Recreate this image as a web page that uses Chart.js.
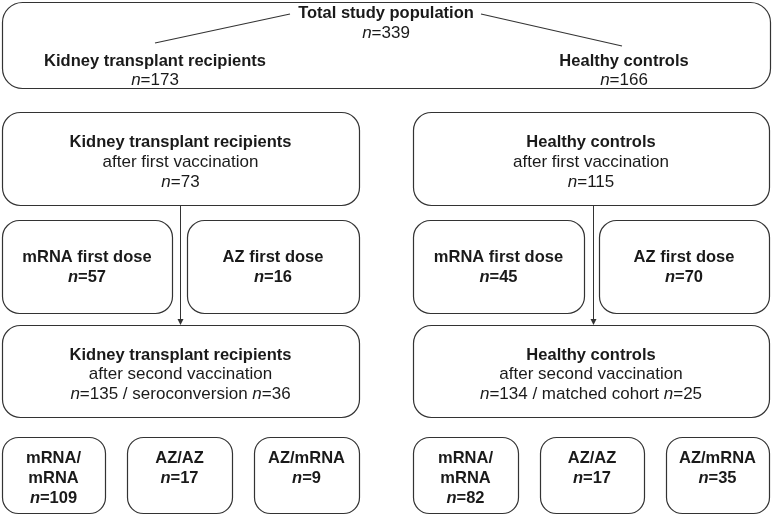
<!DOCTYPE html>
<html><head><meta charset="utf-8">
<script src="https://cdn.jsdelivr.net/npm/chart.js@4/dist/chart.umd.min.js"></script>
<style>html,body{margin:0;padding:0;background:#fff}#wrap{width:772px;height:515px}</style>
</head><body><div id="wrap"><canvas id="c" width="772" height="515"></canvas></div>
<script>
// ---- data ----
const groupNames = ['Kidney transplant recipients', 'Healthy controls'];
const totalLabel = 'Total study population';
const totalN = 339;
const groupN = [173, 166];
const firstVaxLabel = 'after first vaccination';
const firstVaxN = [73, 115];
const firstDoseLabels = ['mRNA first dose', 'AZ first dose'];
const ktrFirstDoseN = [57, 16];
const hcFirstDoseN = [45, 70];
const secondVaxLabel = 'after second vaccination';
const secondVaxN = [135, 134];
const subsetLabels = ['seroconversion', 'matched cohort'];
const subsetN = [36, 25];
const regimenLabels = [['mRNA/', 'mRNA'], ['AZ/AZ'], ['AZ/mRNA']];
const ktrRegimenN = [109, 17, 9];
const hcRegimenN = [82, 17, 35];

// ---- layout (scale units) ----
const BOLD = 16.5, REG = 17;
const FAM = '"Liberation Sans", Arial, Helvetica, sans-serif';
const mainCols = [[2, 359], [413, 769]];
const doseCols = [[[2, 172], [187, 359]], [[413, 584], [599, 769]]];
const regCols = [[[2, 105], [127, 232], [254, 359]], [[413, 518], [540, 644], [666, 769]]];
const arrowX = [180, 593];

function nEq(v, bold) { return [{ t: 'n', i: true, b: bold }, { t: '=' + v, b: bold }]; }
function txt(t, bold) { return [{ t: t, b: bold }]; }

const nodes = [];
// top box
nodes.push({ x0: 2, x1: 770, y0: 2, y1: 88, r: 20, texts: [
  { cx: 386, y: 13, segs: txt(totalLabel, true) },
  { cx: 386, y: 33, segs: nEq(totalN, false) },
  { cx: 155, y: 61, segs: txt(groupNames[0], true) },
  { cx: 155, y: 80, segs: nEq(groupN[0], false) },
  { cx: 624, y: 61, segs: txt(groupNames[1], true) },
  { cx: 624, y: 80, segs: nEq(groupN[1], false) }
]});
const firstDoseN = [ktrFirstDoseN, hcFirstDoseN];
const regimenN = [ktrRegimenN, hcRegimenN];
for (let g = 0; g < 2; g++) {
  const [a, b] = mainCols[g], cx = (a + b) / 2;
  nodes.push({ x0: a, x1: b, y0: 112, y1: 205, r: 18, texts: [
    { cx, y: 142, segs: txt(groupNames[g], true) },
    { cx, y: 162, segs: txt(firstVaxLabel, false) },
    { cx, y: 182, segs: nEq(firstVaxN[g], false) }
  ]});
  doseCols[g].forEach(([p, q], k) => {
    const c = (p + q) / 2;
    nodes.push({ x0: p, x1: q, y0: 220, y1: 313, r: 17, texts: [
      { cx: c, y: 257, segs: txt(firstDoseLabels[k], true) },
      { cx: c, y: 277, segs: nEq(firstDoseN[g][k], true) }
    ]});
  });
  nodes.push({ x0: a, x1: b, y0: 325, y1: 417, r: 18, texts: [
    { cx, y: 355, segs: txt(groupNames[g], true) },
    { cx, y: 374, segs: txt(secondVaxLabel, false) },
    { cx, y: 394, segs: nEq(secondVaxN[g], false).concat([{ t: ' / ' + subsetLabels[g] + ' ' }, { t: 'n', i: true }, { t: '=' + subsetN[g] }]) }
  ]});
  regCols[g].forEach(([p, q], k) => {
    const c = (p + q) / 2;
    const lines = regimenLabels[k];
    const texts = lines.map((l, j) => ({ cx: c, y: 458 + j * 20, segs: txt(l, true) }));
    texts.push({ cx: c, y: 458 + lines.length * 20, segs: nEq(regimenN[g][k], true) });
    nodes.push({ x0: p, x1: q, y0: 437, y1: 513, r: 16, texts });
  });
}
const connectors = [
  [[155, 43], [290, 14]],
  [[481, 14], [622, 46]]
];

function font(s) { return (s.i ? 'italic ' : '') + (s.b ? 'bold ' : '') + (s.b ? BOLD : REG) + 'px ' + FAM; }

const flowPlugin = {
  id: 'flow',
  afterDraw(chart) {
    const ctx = chart.ctx, sx = chart.scales.x, sy = chart.scales.y;
    const X = v => sx.getPixelForValue(v), Y = v => sy.getPixelForValue(v);
    ctx.save();
    ctx.strokeStyle = '#333';
    ctx.lineWidth = 1.2;
    nodes.forEach(n => {
      ctx.beginPath();
      ctx.roundRect(X(n.x0) + 0.5, Y(n.y0) + 0.5, X(n.x1) - X(n.x0), Y(n.y1) - Y(n.y0), n.r);
      ctx.stroke();
    });
    connectors.forEach(([p, q]) => {
      ctx.beginPath(); ctx.moveTo(X(p[0]), Y(p[1])); ctx.lineTo(X(q[0]), Y(q[1])); ctx.stroke();
    });
    ctx.lineWidth = 1;
    arrowX.forEach(ax => {
      const x = Math.round(X(ax)) + 0.5;
      ctx.beginPath(); ctx.moveTo(x, Y(205)); ctx.lineTo(x, Y(320)); ctx.stroke();
      ctx.beginPath(); ctx.moveTo(x - 3, Y(319)); ctx.lineTo(x + 3, Y(319)); ctx.lineTo(x, Y(325)); ctx.closePath();
      ctx.fillStyle = '#333'; ctx.fill();
    });
    ctx.fillStyle = '#1a1a1a';
    ctx.textBaseline = 'middle';
    ctx.textAlign = 'left';
    nodes.forEach(n => n.texts.forEach(t => {
      let w = 0;
      t.segs.forEach(s => { ctx.font = font(s); w += ctx.measureText(s.t).width; });
      let x = X(t.cx) - w / 2;
      t.segs.forEach(s => { ctx.font = font(s); ctx.fillText(s.t, x, Y(t.y)); x += ctx.measureText(s.t).width; });
    }));
    ctx.restore();
  }
};

new Chart(document.getElementById('c'), {
  type: 'scatter',
  data: { datasets: [{ data: [] }] },
  options: {
    responsive: false, animation: false,
    layout: { padding: 0 },
    plugins: { legend: { display: false }, tooltip: { enabled: false } },
    scales: {
      x: { type: 'linear', min: 0, max: 772, display: false },
      y: { type: 'linear', min: 0, max: 515, reverse: true, display: false }
    }
  },
  plugins: [flowPlugin]
});
</script></body></html>
